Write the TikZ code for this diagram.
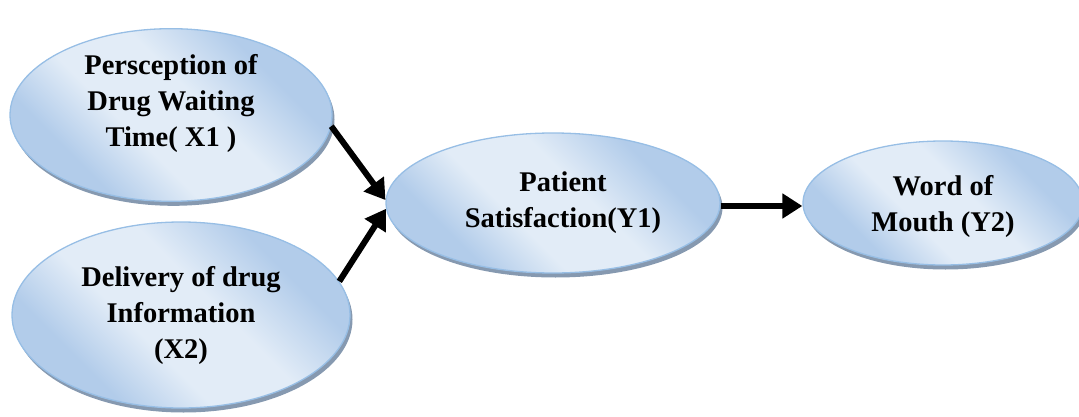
\documentclass[tikz,border=0pt]{standalone}
\usepackage{fontspec}
\setmainfont{Liberation Serif}
\usetikzlibrary{shapes.geometric,arrows.meta,shadows}
\definecolor{bubin}{HTML}{E2ECF7}
\definecolor{bubout}{HTML}{B2CCEA}
\definecolor{bubline}{HTML}{97BEE5}
\definecolor{bubshadow}{HTML}{8699B0}
\pgfdeclarehorizontalshading{bubshade}{100bp}{color(0bp)=(bubout); color(30bp)=(bubout); color(42bp)=(bubin); color(56bp)=(bubin); color(70bp)=(bubout); color(100bp)=(bubout)}
\tikzset{
  bubble/.style={ellipse, draw=bubline, line width=1.3pt, inner sep=0pt,
    shading=bubshade, shading angle=45, align=center,
    font=\bfseries\fontsize{28.5}{36}\selectfont,
    general shadow={fill=bubshadow, shadow xshift=2.5pt, shadow yshift=-4.5pt}},
  conn/.style={line width=6pt, -{Triangle[length=20pt,width=24pt]}}
}
\begin{document}
\begin{tikzpicture}[x=1pt,y=1pt]
\useasboundingbox (0,0) rectangle (1079,416);
\node[bubble, minimum width=322pt, minimum height=154pt] (x1) at (171,301) {Persception of\\Drug Waiting\\Time( X1 )\\[-6pt]};
\node[bubble, minimum width=338pt, minimum height=186pt] (x2) at (181,101) {Delivery of drug\\Information\\(X2)};
\node[bubble, minimum width=334pt, minimum height=140pt] (ys) at (553,213) {\hspace*{20pt}Patient\\\hspace*{20pt}Satisfaction(Y1)};
\node[bubble, minimum width=280pt, minimum height=124pt] (wm) at (943,213) {\\[-8pt]Word of\\Mouth (Y2)};
\draw[conn] (x1.-4) -- (ys.179);
\draw[conn] (x2.12) -- (ys.-178);
\draw[conn] ([yshift=-3pt]ys.east) -- ([yshift=-3pt]wm.west);
\end{tikzpicture}
\end{document}
